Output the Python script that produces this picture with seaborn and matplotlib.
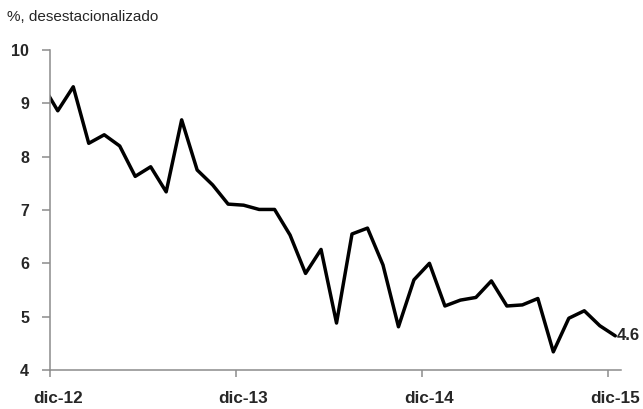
import pandas as pd
import matplotlib
matplotlib.use("Agg")
import matplotlib.pyplot as plt
import seaborn as sns

# Monthly series, nov-12 .. dic-15 (nov-12 only feeds the clipped start of the line)
months = ["nov-12", "dic-12",
          "ene-13", "feb-13", "mar-13", "abr-13", "may-13", "jun-13",
          "jul-13", "ago-13", "sep-13", "oct-13", "nov-13", "dic-13",
          "ene-14", "feb-14", "mar-14", "abr-14", "may-14", "jun-14",
          "jul-14", "ago-14", "sep-14", "oct-14", "nov-14", "dic-14",
          "ene-15", "feb-15", "mar-15", "abr-15", "may-15", "jun-15",
          "jul-15", "ago-15", "sep-15", "oct-15", "nov-15", "dic-15"]
values = [9.35, 8.86,
          9.31, 8.25, 8.41, 8.20, 7.63, 7.81,
          7.34, 8.69, 7.75, 7.47, 7.11, 7.09,
          7.01, 7.01, 6.53, 5.81, 6.26, 4.88,
          6.55, 6.66, 5.97, 4.81, 5.69, 6.00,
          5.20, 5.31, 5.36, 5.67, 5.20, 5.22,
          5.34, 4.34, 4.97, 5.11, 4.83, 4.64]
tick_labels = ["dic-12", "dic-13", "dic-14", "dic-15"]
last_label = "4.6"

df = pd.DataFrame({"mes": months, "tasa": values})
df["pos"] = range(-1, len(df) - 1)  # dic-12 sits at 0

sns.set_style("white")
plt.rcParams["font.family"] = ["Liberation Sans", "DejaVu Sans"]

fig = plt.figure(figsize=(6.43, 4.09), dpi=100)
ax = fig.add_axes([0.0778, 0.0954, 0.9653 - 0.0778, 0.8778 - 0.0954])

sns.lineplot(data=df, x="pos", y="tasa", ax=ax, color="black", linewidth=2.5)

# end label
ax.annotate(last_label, (df["pos"].iloc[-1], df["tasa"].iloc[-1]),
            xytext=(1, 0), textcoords="offset points",
            ha="left", va="center", fontsize=12, fontweight="bold")

ax.set_xlim(-0.5, 36.35)
ax.set_ylim(4, 10)

# ticks between categories, labels on the december points
lab_pos = [df.loc[df["mes"] == m, "pos"].iloc[0] for m in tick_labels]
ax.set_xticks([p - 0.5 for p in lab_pos])
ax.set_xticklabels([])
ax.set_xticks(lab_pos, minor=True)
ax.set_xticklabels(tick_labels, minor=True, fontsize=12.3, fontweight="bold")
ax.tick_params(axis="x", which="major", direction="out", length=5, width=1.1,
               color="#8c8c8c", bottom=True)
ax.tick_params(axis="x", which="minor", length=0, pad=15, bottom=True)

ax.set_yticks([4, 5, 6, 7, 8, 9, 10])
ax.set_yticklabels(["4", "5", "6", "7", "8", "9", "10"], fontsize=11.5,
                   fontweight="bold")
ax.tick_params(axis="y", direction="out", length=6, width=1.1,
               color="#8c8c8c", left=True, pad=9)

for side in ["top", "right"]:
    ax.spines[side].set_visible(False)
for side in ["left", "bottom"]:
    ax.spines[side].set_color("#8c8c8c")
    ax.spines[side].set_linewidth(1.1)

ax.set_xlabel("")
ax.set_ylabel("")
ax.grid(False)

fig.text(0.011, 1 - 17 / 409, "%, desestacionalizado", fontsize=11,
         ha="left", va="center")

fig.savefig("out.png", dpi=100)
